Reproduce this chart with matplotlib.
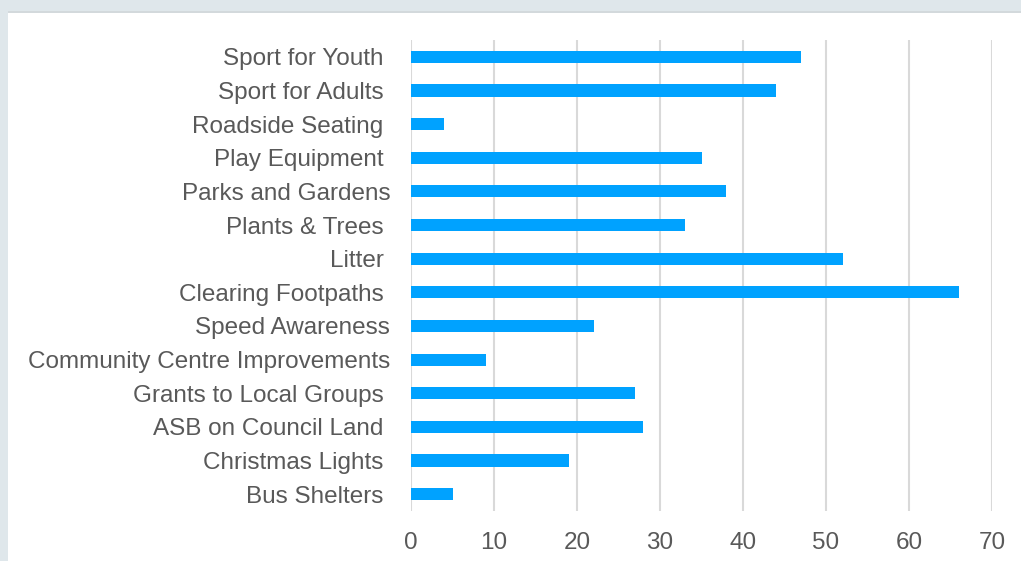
import matplotlib
matplotlib.use("Agg")
import matplotlib.pyplot as plt
from matplotlib.patches import Rectangle

categories = ["Sport for Youth ", "Sport for Adults ", "Roadside Seating ", "Play Equipment ",
              "Parks and Gardens", "Plants & Trees ", "Litter ", "Clearing Footpaths ",
              "Speed Awareness", "Community Centre Improvements", "Grants to Local Groups ",
              "ASB on Council Land ", "Christmas Lights ", "Bus Shelters "]
values = [47, 44, 4, 35, 38, 33, 52, 66, 22, 9, 27, 28, 19, 5]
xticks = [0, 10, 20, 30, 40, 50, 60, 70]

plt.rcParams['font.family'] = ['Liberation Sans', 'DejaVu Sans']

W, H = 1021, 561
fig = plt.figure(figsize=(W/100, H/100), dpi=100)
fig.patch.set_facecolor('white')
bg = '#dfe7eb'
fig.add_artist(Rectangle((0, 1 - 11/H), 1, 11/H, transform=fig.transFigure,
                         facecolor=bg, edgecolor='none', zorder=-5))
fig.add_artist(Rectangle((0, 0), 8/W, 1, transform=fig.transFigure,
                         facecolor=bg, edgecolor='none', zorder=-5))
fig.add_artist(Rectangle((8/W, 1 - 12.5/H), 1, 1.5/H, transform=fig.transFigure,
                         facecolor='#d3d9dc', edgecolor='none', zorder=-5))

ax = fig.add_axes([411/W, 1 - 511/H, (992-411)/W, (511-40)/H])
ax.set_facecolor('none')
y = list(range(len(categories)))
ax.barh(y, values, height=0.36, color='#00a2ff', zorder=3)
ax.set_ylim(len(categories) - 0.5, -0.5)
ax.set_xlim(0, 70)
ax.set_xticks(xticks)
ax.set_xticklabels([str(t) for t in xticks])
ax.set_yticks(y)
ax.set_yticklabels(categories)
for s in ax.spines.values():
    s.set_visible(False)
ax.grid(axis='x', color='#d9d9d9', linewidth=1.5, zorder=0)
ax.tick_params(axis='both', length=0, labelsize=17.5, labelcolor='#595959')
ax.tick_params(axis='y', pad=15)
ax.tick_params(axis='x', pad=15)

fig.savefig('out.png', dpi=100, facecolor=fig.get_facecolor())
